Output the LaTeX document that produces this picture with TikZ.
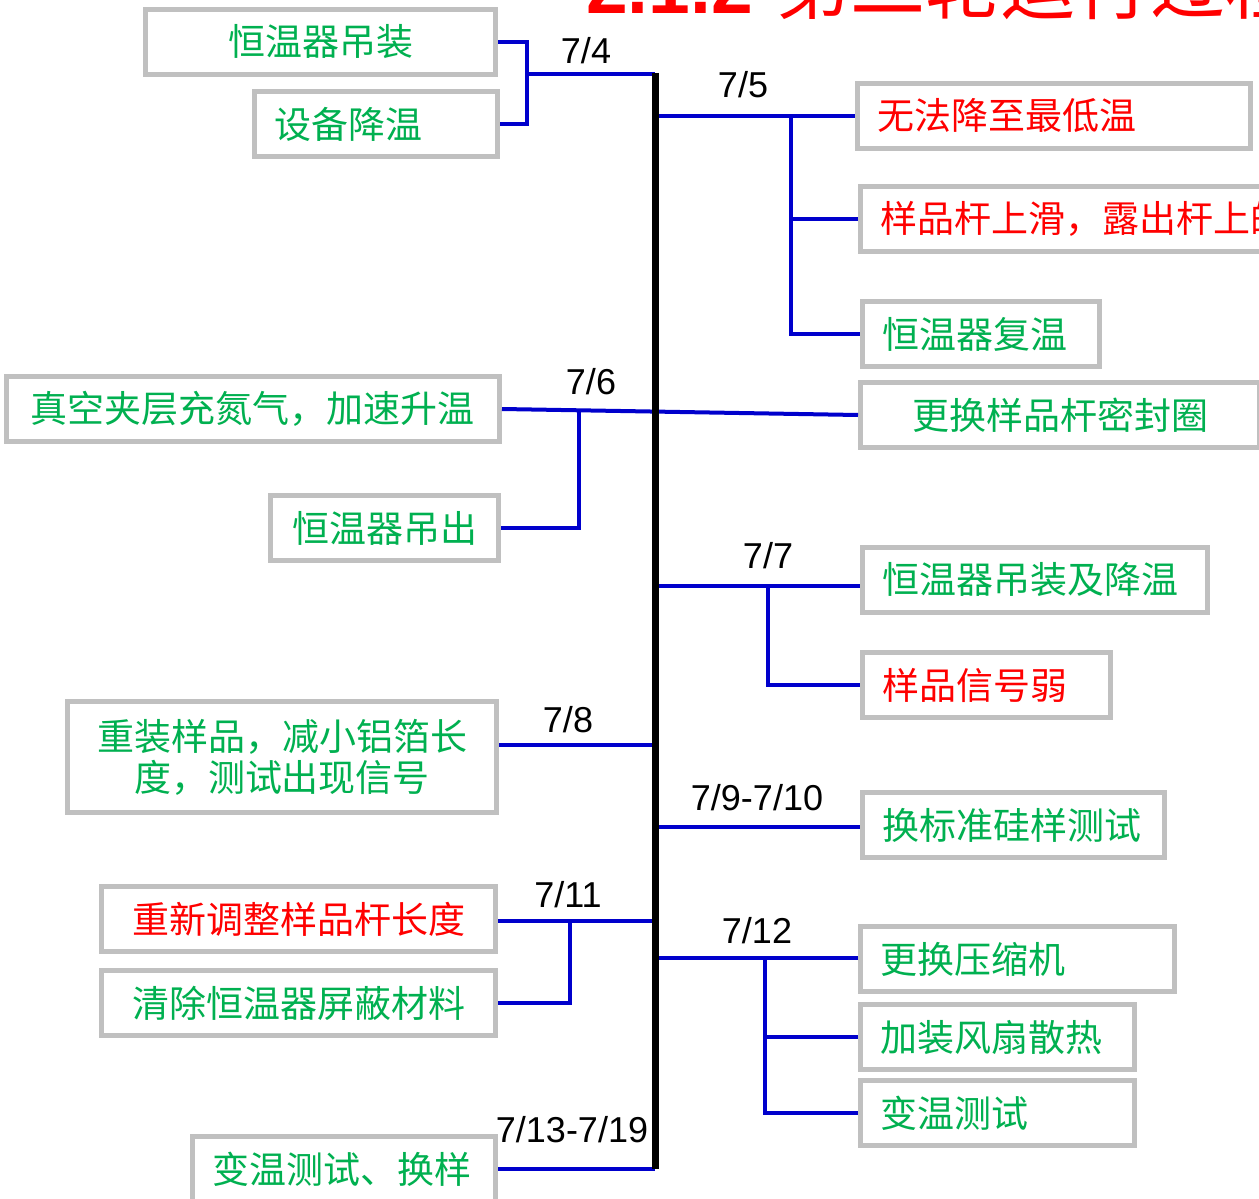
\documentclass[tikz,border=0pt]{standalone}
\usepackage{fontspec}
\setmainfont{Noto Sans CJK SC}
\newfontfamily\lat{Liberation Sans}
\definecolor{boxgray}{HTML}{C0C0C0}
\definecolor{tgreen}{HTML}{00B050}
\definecolor{tred}{HTML}{FF0000}
\definecolor{cblue}{HTML}{0000CC}
\tikzset{
  box/.style={draw=boxgray, line width=5pt, fill=white, inner ysep=0pt, inner xsep=20pt,
    minimum height=65pt, anchor=west, font=\fontsize{37}{41}\selectfont},
  gtext/.style={text=tgreen},
  rtext/.style={text=tred},
  conn/.style={draw=cblue, line width=4pt},
  spine/.style={draw=black, line width=7pt},
  lbl/.style={anchor=base, inner sep=0pt, font=\lat\fontsize{36}{40}\selectfont}
}
\begin{document}
\begin{tikzpicture}[x=1pt,y=-1pt]
\useasboundingbox (0,0) rectangle (1259,1199);
\clip (0,0) rectangle (1259,1199);

% title (cut off at top)
\node[anchor=base west, inner sep=0pt, text=tred, font=\fontsize{75}{80}\selectfont] (title) at (586,14)
  {{\lat\bfseries 2.1.2}\hspace{22pt}第二轮运行过程};

% boxes
\node[box, gtext, text width=310pt, align=center] (A) at (143,42) {恒温器吊装};
\node[box, gtext, text width=203pt, align=left] (B) at (252,124) {设备降温};
\node[box, rtext, text width=353pt, align=left] (C) at (855,116) {无法降至最低温};
\node[box, rtext, text width=560pt, align=left] (D) at (858,219) {样品杆上滑，露出杆上的部分};
\node[box, gtext, text width=197pt, align=left] (E) at (860,334) {恒温器复温};
\node[box, gtext, text width=453pt, align=center] (F) at (4,409) {真空夹层充氮气，加速升温};
\node[box, gtext, text width=359pt, align=center] (G) at (858,415) {更换样品杆密封圈};
\node[box, gtext, text width=188pt, align=center] (H) at (268,528) {恒温器吊出};
\node[box, gtext, text width=305pt, align=left] (I) at (860,580) {恒温器吊装及降温};
\node[box, rtext, text width=208pt, align=left] (J) at (860,685) {样品信号弱};
\node[box, gtext, text width=389pt, align=center, minimum height=111pt] (K) at (65,757) {重装样品，减小铝箔长\\度，测试出现信号};
\node[box, gtext, text width=262pt, align=left] (L) at (860,825) {换标准硅样测试};
\node[box, rtext, text width=354pt, align=center] (M) at (99,919) {重新调整样品杆长度};
\node[box, gtext, text width=354pt, align=center] (N) at (99,1003) {清除恒温器屏蔽材料};
\node[box, gtext, text width=274pt, align=left] (O) at (858,959) {更换压缩机};
\node[box, gtext, text width=234pt, align=left] (P) at (858,1037) {加装风扇散热};
\node[box, gtext, text width=234pt, align=left] (Q) at (858,1113) {变温测试};
\node[box, gtext, text width=263pt, align=left] (R) at (190,1169) {变温测试、换样};

% spine
\coordinate (top) at (655,73);
\coordinate (bot) at (655,1169);

% junction x-positions and y-levels
\coordinate (j4) at (527,74);
\coordinate (x5) at (791,0);
\coordinate (x6) at (579,0);
\coordinate (y7) at (0,586);
\coordinate (x7) at (768,0);
\coordinate (y8) at (0,745);
\coordinate (y9) at (0,827);
\coordinate (y11) at (0,921);
\coordinate (x11) at (570,0);
\coordinate (y12) at (0,958);
\coordinate (x12) at (765,0);

\begin{scope}[on background layer/.style={}]
% 7/4
\draw[conn] (A.east) -| (j4);
\draw[conn] (B.east) -| (j4);
\draw[conn] (j4) -- (j4 -| top);
% 7/5
\draw[conn] (C.west -| top) -- (C.west);
\draw[conn] (C.west -| x5) |- (D.west);
\draw[conn] (C.west -| x5) |- (E.west);
% 7/6
\draw[conn] (F.east) -- (G.west);
\draw[conn] (F.east -| x6) |- (H.east);
% 7/7
\draw[conn] (y7 -| top) -- (y7 -| I.west);
\draw[conn] (y7 -| x7) |- (J.west);
% 7/8
\draw[conn] (y8 -| K.east) -- (y8 -| top);
% 7/9-7/10
\draw[conn] (y9 -| top) -- (y9 -| L.west);
% 7/11
\draw[conn] (y11 -| M.east) -- (y11 -| top);
\draw[conn] (y11 -| x11) |- (N.east);
% 7/12
\draw[conn] (y12 -| top) -- (y12 -| O.west);
\draw[conn] (y12 -| x12) |- (Q.west);
\draw[conn] (P.west -| x12) -- (P.west);
% 7/13-7/19
\draw[conn] (R.east) -- (R.east -| top);
\end{scope}

\draw[spine] (top) -- (bot);

% date labels
\node[lbl] (l4) at (586,64) {7/4};
\node[lbl] (l5) at (743,98) {7/5};
\node[lbl] (l6) at (591,394) {7/6};
\node[lbl] (l7) at (768,568) {7/7};
\node[lbl] (l8) at (568,732) {7/8};
\node[lbl] (l9) at (757,810) {7/9-7/10};
\node[lbl] (l11) at (568,907) {7/11};
\node[lbl] (l12) at (757,943) {7/12};
\node[lbl] (l13) at (572,1142) {7/13-7/19};
\end{tikzpicture}
\end{document}
